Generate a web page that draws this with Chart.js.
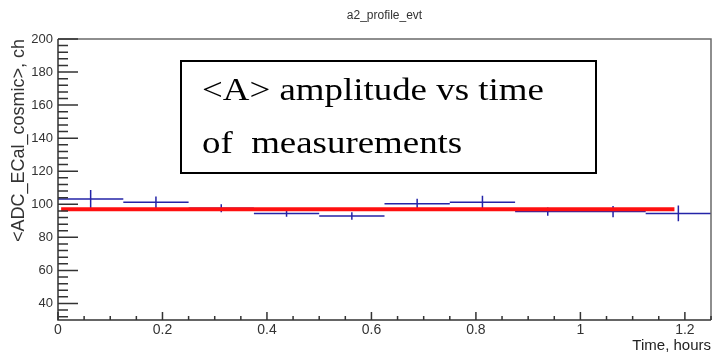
<!DOCTYPE html>
<html>
<head>
<meta charset="utf-8">
<script src="https://cdn.jsdelivr.net/npm/chart.js@4/dist/chart.umd.min.js"></script>
<style>
  html, body { margin: 0; padding: 0; background: #fff; }
  #wrap { width: 712px; height: 361px; }
</style>
</head>
<body>
<div id="wrap"><canvas id="profileChart" width="712" height="361"></canvas></div>
<script>
// profile bins (time, hours) and mean amplitude per bin
const binEdges = [0, 0.125, 0.25, 0.375, 0.5, 0.625, 0.75, 0.875, 1.0, 1.125, 1.25];
const meanAdc = [103.2, 101.2, 97.6, 94.5, 92.9, 100.4, 101.2, 95.6, 95.6, 94.5];
const meanAdcErr = [5.5, 3.5, 2.4, 2.0, 2.3, 3.0, 4.0, 2.5, 3.4, 4.7];

// constant fit
const fitLevel = 97.0;
const fitRange = [0.006, 1.18];

const xTicks = [0, 0.2, 0.4, 0.6, 0.8, 1, 1.2];
const xTickLabels = ['0', '0.2', '0.4', '0.6', '0.8', '1', '1.2'];
const yTicks = [40, 60, 80, 100, 120, 140, 160, 180, 200];
const yTickLabels = ['40', '60', '80', '100', '120', '140', '160', '180', '200'];

const noteLines = ['<A> amplitude vs time', 'of  measurements'];

const FONT = 'Liberation Sans, Arial, sans-serif';
const BLUE = '#2424a8';

// horizontal bin bars, split by null points
const barPoints = [];
meanAdc.forEach((v, i) => {
  barPoints.push({x: binEdges[i], y: v}, {x: binEdges[i + 1], y: v}, {x: binEdges[i + 1], y: null});
});
// vertical error bars at bin centres
const errPoints = [];
meanAdc.forEach((v, i) => {
  const c = (binEdges[i] + binEdges[i + 1]) / 2;
  errPoints.push({x: c, y: v - meanAdcErr[i]}, {x: c, y: v + meanAdcErr[i]}, {x: c, y: null});
});

// ROOT-like frame: inward ticks, axis lines, annotation box
const rootFrame = {
  id: 'rootFrame',
  afterDatasetsDraw(chart) {
    const {ctx, chartArea: a, scales: {x, y}} = chart;
    ctx.save();

    // top and right border
    ctx.strokeStyle = '#6a6a6a';
    ctx.lineWidth = 1.5;
    ctx.beginPath();
    ctx.moveTo(a.left, a.top); ctx.lineTo(a.right, a.top); ctx.lineTo(a.right, a.bottom);
    ctx.stroke();

    // axes
    ctx.strokeStyle = '#333';
    ctx.lineWidth = 1.5;
    ctx.beginPath();
    ctx.moveTo(a.left, a.top); ctx.lineTo(a.left, a.bottom); ctx.lineTo(a.right, a.bottom);
    ctx.stroke();

    // y ticks: major every 20, minor every 4
    ctx.beginPath();
    for (let v = 32; v <= 200; v += 4) {
      const py = y.getPixelForValue(v);
      const len = (v % 20 === 0) ? 20 : 10;
      ctx.moveTo(a.left, py); ctx.lineTo(a.left + len, py);
    }
    // x ticks: major every 0.2, minor every 0.05
    for (let k = 0; k <= 25; k++) {
      const v = k * 0.05;
      const px = x.getPixelForValue(v);
      const len = (k % 4 === 0) ? 8 : 4;
      ctx.moveTo(px, a.bottom); ctx.lineTo(px, a.bottom - len);
    }
    ctx.stroke();
    ctx.restore();
  },
  afterDraw(chart) {
    const ctx = chart.ctx;
    ctx.save();
    ctx.fillStyle = '#fff';
    ctx.fillRect(181, 61, 415, 112);
    ctx.strokeStyle = '#000';
    ctx.lineWidth = 2;
    ctx.strokeRect(181, 61, 415, 112);
    ctx.fillStyle = '#000';
    ctx.font = '31px "Liberation Serif", "Times New Roman", serif';
    ctx.textBaseline = 'alphabetic';
    ctx.translate(202, 0);
    ctx.scale(1.19, 1);
    ctx.fillText(noteLines[0], 0, 100);
    ctx.fillText(noteLines[1], 0, 153);
    ctx.restore();
  }
};

new Chart(document.getElementById('profileChart'), {
  type: 'scatter',
  data: {
    datasets: [
      {
        label: 'fit',
        data: [{x: fitRange[0], y: fitLevel}, {x: fitRange[1], y: fitLevel}],
        showLine: true,
        borderColor: '#ff1010',
        borderWidth: 4,
        pointRadius: 0
      },
      {
        label: 'bins',
        data: barPoints,
        showLine: true,
        spanGaps: false,
        borderColor: BLUE,
        borderWidth: 1.5,
        pointRadius: 0
      },
      {
        label: 'errors',
        data: errPoints,
        showLine: true,
        spanGaps: false,
        borderColor: BLUE,
        borderWidth: 1.5,
        pointRadius: 0
      }
    ]
  },
  options: {
    responsive: false,
    animation: false,
    devicePixelRatio: 1,
    layout: {padding: {left: 0, right: 1, top: 0, bottom: 0}},
    plugins: {
      legend: {display: false},
      tooltip: {enabled: false},
      title: {
        display: true,
        fullSize: false,
        text: 'a2_profile_evt',
        color: '#333',
        font: {family: FONT, size: 12, weight: 'normal'},
        padding: {top: 8, bottom: 16.6}
      }
    },
    scales: {
      x: {
        type: 'linear',
        min: 0,
        max: 1.25,
        afterBuildTicks: s => { s.ticks = xTicks.map(v => ({value: v})); },
        afterFit: s => { s.height = 41; },
        ticks: {
          callback: (v, i) => xTickLabels[i],
          color: '#333',
          font: {family: FONT, size: 14},
          padding: 2,
          maxRotation: 0,
          autoSkip: false
        },
        grid: {display: false, drawTicks: false},
        border: {display: false},
        title: {
          display: true,
          text: 'Time, hours',
          align: 'end',
          color: '#222',
          font: {family: FONT, size: 15},
          padding: {top: 0, bottom: 6}
        }
      },
      y: {
        type: 'linear',
        min: 30,
        max: 200,
        afterBuildTicks: s => { s.ticks = yTicks.map(v => ({value: v})); },
        afterFit: s => { s.width = 58; },
        ticks: {
          callback: (v, i) => yTickLabels[i],
          color: '#333',
          font: {family: FONT, size: 13},
          padding: 5,
          autoSkip: false
        },
        grid: {display: false, drawTicks: false},
        border: {display: false},
        title: {
          display: true,
          text: '<ADC_ECal_cosmic>, ch',
          align: 'end',
          color: '#333',
          font: {family: FONT, size: 18},
          padding: {top: 8, bottom: 0}
        }
      }
    }
  },
  plugins: [rootFrame]
});
</script>
</body>
</html>
